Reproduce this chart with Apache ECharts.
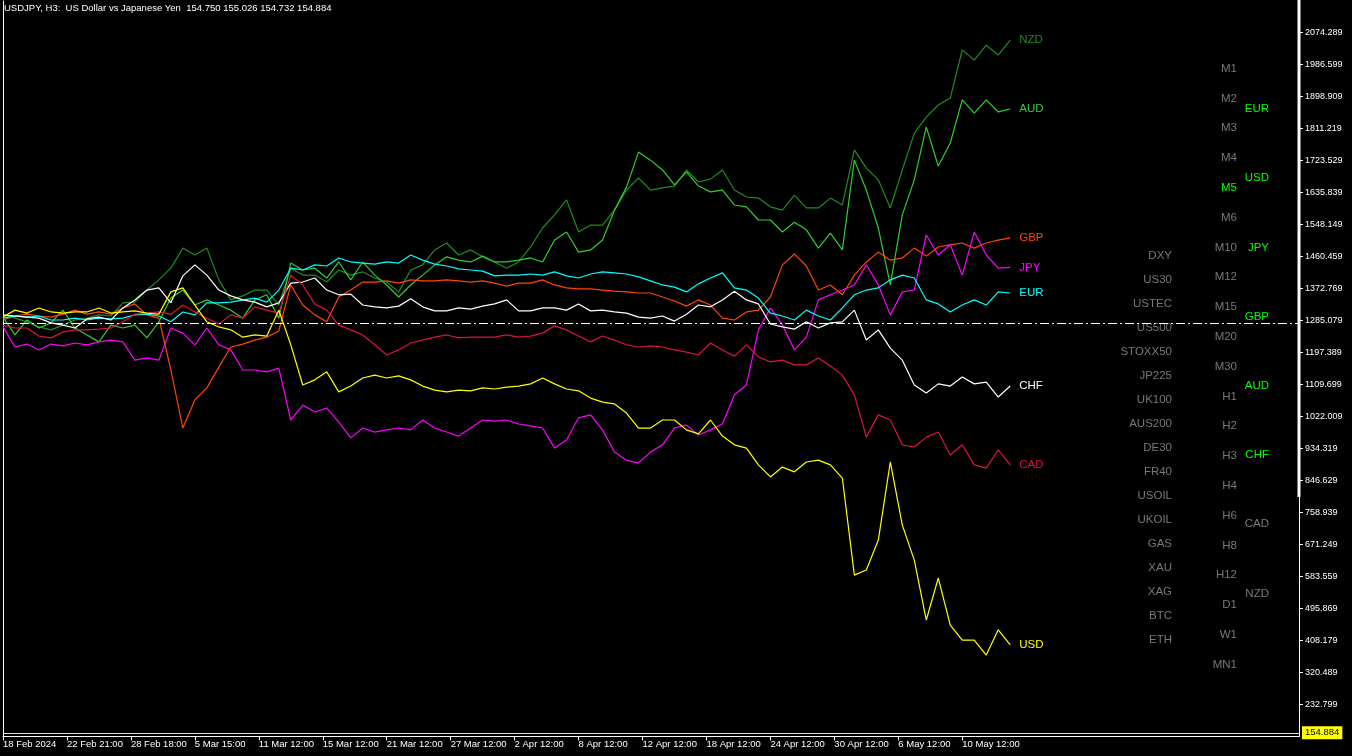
<!DOCTYPE html>
<html><head><meta charset="utf-8">
<script src="https://cdn.jsdelivr.net/npm/echarts@6/dist/echarts.min.js"></script>
<style>html,body{margin:0;padding:0;background:#000;}#c{width:1352px;height:756px;}</style>
</head><body><div id="c"></div>
<script>
// ---------- data ----------
const symbolName = 'USDJPY, H3:  US Dollar vs Japanese Yen';
const ohlc = ['154.750', '155.026', '154.732', '154.884'];
const lastPrice = 154.884;
const baselineValue = 1277.8;
const barStep = 6;          // H3 bars between samples
const barsPerXTick = 32;    // H3 bars between time labels
const xMaxBars = 648.5;

const xTickLabels = ['18 Feb 2024','22 Feb 21:00','28 Feb 18:00','5 Mar 15:00','11 Mar 12:00','15 Mar 12:00',
  '21 Mar 12:00','27 Mar 12:00','2 Apr 12:00','8 Apr 12:00','12 Apr 12:00','18 Apr 12:00','24 Apr 12:00',
  '30 Apr 12:00','6 May 12:00','10 May 12:00'];
const yTickLabels = ['2074.289','1986.599','1898.909','1811.219','1723.529','1635.839','1548.149','1460.459',
  '1372.769','1285.079','1197.389','1109.699','1022.009','934.319','846.629','758.939','671.249','583.559',
  '495.869','408.179','320.489','232.799'];

const usd = [1294,1313,1305,1319,1308,1305,1308,1308,1319,1305,
  1308,1311,1305,1302,1363,1374,1327,1281,1267,1259,
  1239,1245,1242,1313,1218,1108,1122,1144,1089,1105,
  1127,1135,1127,1133,1122,1105,1094,1089,1094,1092,
  1100,1097,1102,1105,1111,1127,1111,1097,1092,1072,
  1061,1056,1031,990,990,1012,1012,985,974,1012,
  968,944,935,889,856,883,870,897,902,889,
  853,587,601,683,897,724,628,464,579,450,
  409,409,368,437,396];
const jpy = [1267,1212,1220,1204,1220,1215,1223,1218,1226,1231,
  1226,1176,1182,1176,1264,1250,1218,1264,1218,1204,
  1149,1149,1144,1154,1012,1053,1034,1045,1006,963,
  990,979,985,990,985,1012,990,979,968,990,
  1012,1009,1012,1001,996,990,935,957,1018,1026,
  985,924,902,894,924,944,990,998,971,985,
  1001,1081,1108,1259,1319,1272,1204,1239,1341,1355,
  1368,1382,1437,1382,1300,1363,1368,1519,1464,1492,
  1409,1527,1464,1428,1430];
const eur = [1291,1297,1294,1297,1286,1286,1291,1286,1291,1289,
  1291,1300,1302,1297,1281,1308,1300,1333,1333,1335,
  1341,1346,1335,1368,1428,1423,1437,1434,1456,1445,
  1442,1439,1445,1442,1464,1450,1439,1434,1426,1423,
  1420,1407,1409,1409,1412,1409,1418,1407,1401,1412,
  1418,1415,1412,1404,1393,1382,1376,1363,1385,1401,
  1415,1374,1368,1346,1305,1297,1286,1313,1297,1286,
  1319,1355,1368,1374,1396,1409,1401,1341,1330,1308,
  1327,1341,1327,1363,1360];
const gbp = [1286,1297,1302,1297,1294,1302,1313,1302,1308,1302,
  1319,1330,1300,1291,1149,990,1067,1100,1157,1212,
  1220,1231,1239,1256,1382,1327,1300,1281,1349,1368,
  1390,1390,1393,1387,1396,1393,1393,1396,1393,1390,
  1393,1387,1379,1387,1387,1396,1382,1374,1371,1371,
  1368,1365,1363,1360,1360,1349,1338,1324,1341,1327,
  1291,1286,1308,1313,1349,1437,1467,1434,1368,1382,
  1355,1409,1445,1472,1450,1456,1483,1461,1486,1492,
  1497,1483,1497,1505,1511];
const chf = [1300,1297,1294,1291,1278,1272,1264,1289,1294,1286,
  1319,1341,1368,1374,1333,1407,1437,1409,1368,1352,
  1341,1335,1322,1333,1387,1390,1401,1368,1355,1357,
  1327,1322,1319,1324,1344,1322,1311,1311,1319,1316,
  1324,1330,1341,1311,1311,1319,1319,1313,1330,1311,
  1313,1308,1305,1294,1291,1297,1283,1302,1327,1322,
  1341,1365,1341,1330,1275,1267,1261,1281,1264,1278,
  1281,1313,1231,1259,1209,1176,1108,1086,1111,1105,
  1130,1111,1116,1075,1105];
const cad = [1272,1264,1264,1242,1237,1253,1259,1259,1261,1264,
  1281,1302,1305,1308,1302,1327,1308,1291,1275,1300,
  1291,1322,1313,1305,1409,1382,1330,1313,1272,1259,
  1245,1218,1190,1204,1223,1231,1239,1245,1237,1239,
  1239,1239,1245,1239,1242,1250,1270,1259,1242,1226,
  1242,1231,1218,1212,1215,1212,1204,1198,1190,1223,
  1204,1187,1218,1185,1171,1176,1163,1163,1182,1160,
  1135,1081,965,1026,1012,944,938,965,979,916,
  944,889,880,930,889];
const aud = [1294,1245,1286,1264,1278,1313,1264,1245,1226,1272,
  1264,1272,1237,1281,1346,1368,1327,1341,1327,1313,
  1291,1341,1355,1291,1442,1423,1428,1401,1445,1396,
  1445,1409,1382,1349,1382,1409,1437,1459,1450,1445,
  1461,1445,1445,1450,1456,1445,1505,1527,1472,1478,
  1505,1587,1650,1746,1724,1697,1656,1692,1653,1637,
  1642,1601,1596,1560,1560,1527,1554,1533,1483,1524,
  1478,1724,1642,1538,1382,1574,1670,1815,1708,1771,
  1889,1853,1889,1856,1864];
const nzd = [1300,1291,1281,1267,1259,1272,1286,1291,1300,1297,
  1333,1335,1368,1396,1428,1483,1464,1483,1396,1341,
  1352,1368,1368,1327,1428,1409,1409,1390,1423,1409,
  1418,1401,1390,1363,1423,1437,1478,1497,1464,1478,
  1459,1445,1428,1445,1486,1538,1574,1615,1527,1546,
  1546,1587,1642,1675,1642,1648,1653,1697,1664,1672,
  1697,1642,1623,1620,1596,1587,1628,1593,1593,1620,
  1601,1752,1702,1670,1593,1697,1798,1842,1875,1894,
  2026,1998,2039,2012,2053];

const symbolsList = ['DXY','US30','USTEC','US500','STOXX50','JP225','UK100','AUS200','DE30','FR40',
  'USOIL','UKOIL','GAS','XAU','XAG','BTC','ETH'];
const timeframes = ['M1','M2','M3','M4','M5','M6','M10','M12','M15','M20','M30','H1','H2','H3','H4',
  'H6','H8','H12','D1','W1','MN1'];
const activeTimeframe = 'M5';
const currencies = ['EUR','USD','JPY','GBP','AUD','CHF','CAD','NZD'];
const activeCurrencies = ['EUR','USD','JPY','GBP','AUD','CHF'];

// ---------- styles ----------
const FONT = '"Liberation Sans", Arial, sans-serif';
const GREY = '#787878';
const LIVE = '#00ff00';
const seriesDefs = [
  {name:'NZD', data:nzd, color:'#228b22'},
  {name:'AUD', data:aud, color:'#32cd32'},
  {name:'GBP', data:gbp, color:'#ff4500'},
  {name:'JPY', data:jpy, color:'#ff00ff'},
  {name:'EUR', data:eur, color:'#00ffff'},
  {name:'CHF', data:chf, color:'#ffffff'},
  {name:'CAD', data:cad, color:'#dc143c'},
  {name:'USD', data:usd, color:'#ffff00'}
];

const chart = echarts.init(document.getElementById('c'), null, {renderer:'canvas'});

const series = seriesDefs.map(s => {
  const o = {
    type:'line', name:s.name, animation:false, silent:true,
    symbol:'none', showSymbol:false,
    data: s.data.map((v,i)=>[i*barStep, v]),
    lineStyle:{color:s.color, width:1.2},
    itemStyle:{color:s.color},
    emphasis:{disabled:true},
    endLabel:{show:true, formatter:s.name, color:s.color, fontSize:11.5, fontFamily:FONT, distance:9}
  };
  if (s.name === 'CHF') {
    o.markLine = {symbol:['none','none'], silent:true, animation:false,
      label:{show:false}, lineStyle:{color:'#ffffff', width:1, type:[9,3,2,3]},
      data:[{yAxis: baselineValue}]};
  }
  if (s.name === 'USD') {
    o.markLine = {symbol:['none','none'], silent:true, animation:false,
      lineStyle:{color:'#ffff00', width:1, type:'solid'},
      label:{show:true, position:'end', formatter: lastPrice.toFixed(3), color:'#000',
        backgroundColor:'#ffff00', padding:[2,3,1,3], fontSize:9.5, fontFamily:FONT, distance:3},
      data:[{yAxis: lastPrice}]};
  }
  return o;
});

const graphic = [];
graphic.push({type:'text', left:4, top:3, silent:true,
  style:{text: symbolName + '  ' + ohlc.join(' '), fill:'#ffffff', font:'9.5px ' + FONT}});
graphic.push({type:'rect', shape:{x:1297.5, y:0, width:3, height:497}, style:{fill:'#ffffff'}, silent:true});
symbolsList.forEach((t,k)=>graphic.push({type:'text', silent:true, x:1172, y:256 + k*24,
  style:{text:t, fill:GREY, font:'11.5px ' + FONT, align:'right', verticalAlign:'middle', textAlign:'right', textVerticalAlign:'middle'}}));
timeframes.forEach((t,k)=>graphic.push({type:'text', silent:true, x:1237, y:68.6 + k*29.8,
  style:{text:t, fill: t===activeTimeframe ? LIVE : GREY, font:'11.5px ' + FONT, align:'right', verticalAlign:'middle', textAlign:'right', textVerticalAlign:'middle'}}));
currencies.forEach((t,k)=>graphic.push({type:'text', silent:true, x:1269, y:109 + k*69.2,
  style:{text:t, fill: activeCurrencies.includes(t) ? LIVE : GREY, font:'11.5px ' + FONT, align:'right', verticalAlign:'middle', textAlign:'right', textVerticalAlign:'middle'}}));

const xTickValues = xTickLabels.map((_,k)=>k*barsPerXTick);
const yTickValues = yTickLabels.map(Number);

chart.setOption({
  backgroundColor:'#000000',
  animation:false,
  grid:{left:2, right:53, top:1, bottom:19.6, containLabel:false},
  xAxis:{type:'value', min:0, max:xMaxBars, position:'bottom',
    axisLine:{show:true, lineStyle:{color:'#ffffff', width:1}},
    axisTick:{show:true, length:4, inside:false, customValues:xTickValues, lineStyle:{color:'#ffffff'}},
    axisLabel:{show:true, customValues:xTickValues, color:'#ffffff', fontSize:9.5, fontFamily:FONT,
      align:'left', margin:3,
      formatter:(v)=>{const k=Math.round(v/barsPerXTick); return xTickLabels[k]||'';}},
    splitLine:{show:false}},
  yAxis:[
    {type:'value', position:'right', min:145.109, max:2160, scale:true,
      axisLine:{show:true, onZero:false, lineStyle:{color:'#ffffff', width:1}},
      axisTick:{show:true, length:4, inside:false, customValues:yTickValues, lineStyle:{color:'#ffffff'}},
      axisLabel:{show:true, customValues:yTickValues, color:'#ffffff', fontSize:9, fontFamily:FONT, margin:6,
        formatter:(v)=>Number(v).toFixed(3)},
      splitLine:{show:false}},
    {type:'value', position:'left', min:145.109, max:2160, scale:true,
      axisLine:{show:true, onZero:false, lineStyle:{color:'#ffffff', width:1}},
      axisTick:{show:false}, axisLabel:{show:false}, splitLine:{show:false}}
  ],
  series: series,
  graphic: graphic
});
</script>
</body></html>
